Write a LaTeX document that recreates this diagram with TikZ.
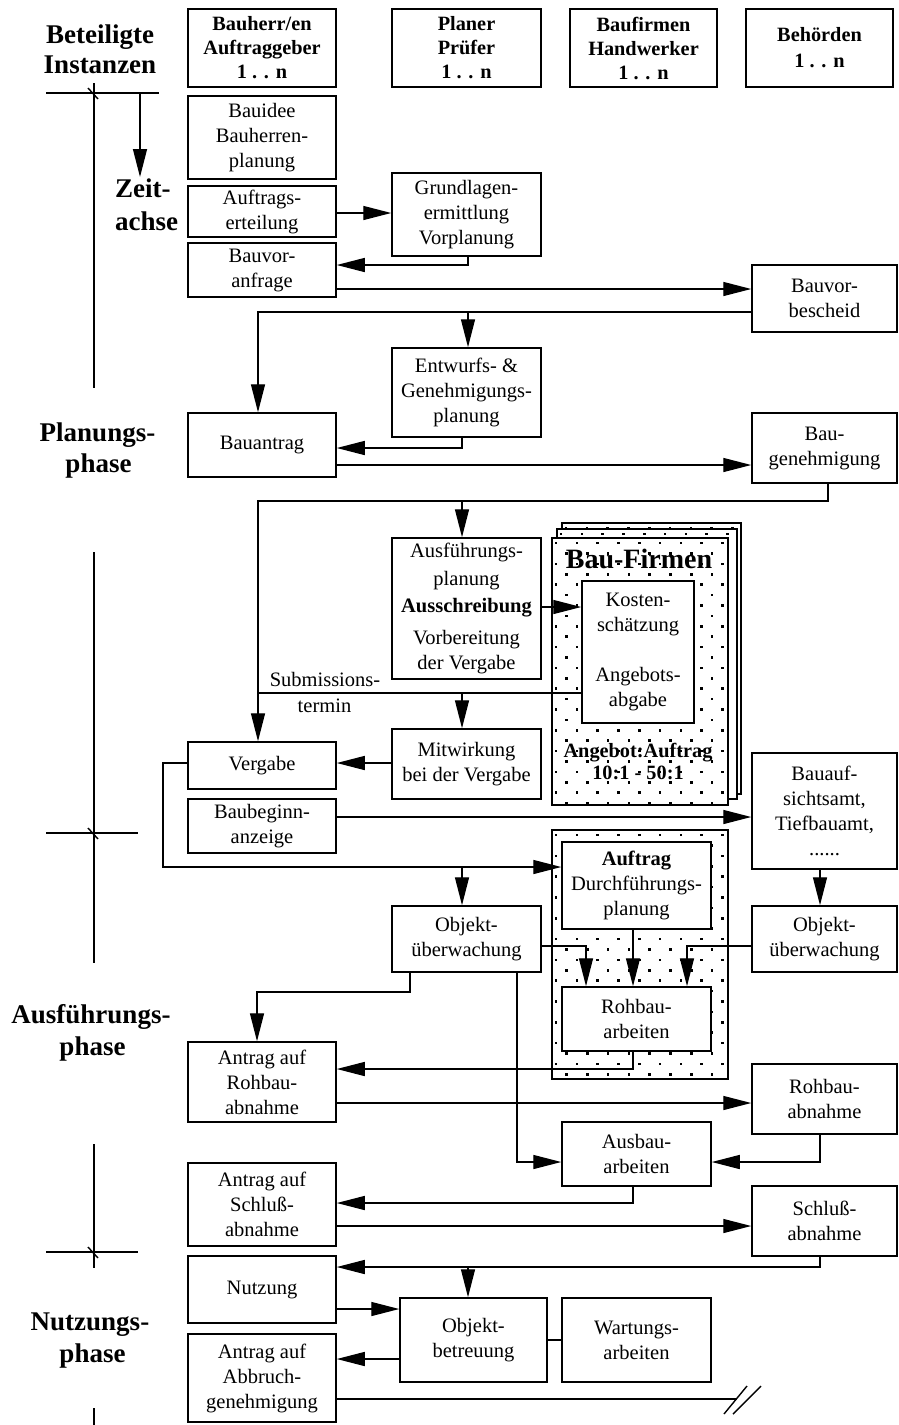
\documentclass[tikz,border=0pt]{standalone}
\usepackage{fontspec}
\setmainfont{Liberation Serif}
\usetikzlibrary{arrows.meta,calc}
\tikzset{
  box/.style={draw, line width=1.5pt, fill=white, inner sep=0pt, align=center,
              font=\fontsize{20.5}{25}\selectfont},
  hbox/.style={box, font=\fontsize{20.3}{24}\selectfont\bfseries},
  conn/.style={line width=1.4pt},
  arr/.style={conn, -{Triangle[length=28pt,width=14pt]}},
  big/.style={font=\fontsize{27}{30}\selectfont\bfseries, inner sep=0pt, anchor=base},
  lbl/.style={font=\fontsize{20.5}{25}\selectfont, inner sep=0pt, anchor=base},
  blbl/.style={font=\fontsize{20.3}{24}\selectfont\bfseries, inner sep=0pt, anchor=base},
  pagebox/.style={draw, line width=1.5pt, inner sep=0pt},
}
% box: name, x1, y1, x2, y2, text
\newcommand\bx[7][box]{\node[#1, minimum width={(#5)-(#3)}, minimum height={(#6)-(#4)}] (#2) at ({((#3)+(#5))/2},{((#4)+(#6))/2}) {#7};}
% dotted area
\newcommand\dotarea[4]{%
  \begin{scope}
    \clip ({#1+1},{#2+1}) rectangle ({#3-1},{#4-1});
    \pgfmathtruncatemacro\dnr{((#4)-(#2))/10.4+1}
    \pgfmathtruncatemacro\dnc{((#3)-(#1))/20.8+1}
    \foreach \ii in {0,...,\dnr}{
      \foreach \jj in {0,...,\dnc}{
        \pgfmathsetmacro\dotx{(#1)+4+\jj*20.8+mod(\ii,2)*10.4}
        \pgfmathsetmacro\doty{(#2)+5+\ii*10.4}
        \fill (\dotx-1.3,\doty-1.3) rectangle (\dotx+1.3,\doty+1.3);
      }}
  \end{scope}}
% dotted page: name, x1, y1, x2, y2
\newcommand\dpage[5]{%
  \fill[white] (#2,#3) rectangle (#4,#5);
  \dotarea{#2}{#3}{#4}{#5}
  \node[pagebox, minimum width={(#4)-(#2)}, minimum height={(#5)-(#3)}] (#1) at ({((#2)+(#4))/2},{((#3)+(#5))/2}) {};}

\begin{document}
\begin{tikzpicture}[x=1pt,y=-1pt]
\useasboundingbox (0,0) rectangle (899,1425);

% ---------- left labels and time axis ----------
\node[big] (lBet) at (100,43) {Beteiligte};
\node[big] (lIns) at (100,73) {Instanzen};
\node[big, anchor=base west] (lZeit) at (115,197) {Zeit-};
\node[big, anchor=base west] (lAchse) at (115,230) {achse};
\node[big] (lPlan) at (97.5,441) {Planungs-};
\node[big] (lPlanB) at (98.5,472) {phase};
\node[big] (lAusf) at (91,1023) {Ausführungs-};
\node[big] (lAusfB) at (92.5,1055) {phase};
\node[big] (lNutz) at (90,1330) {Nutzungs-};
\node[big] (lNutzB) at (92.5,1362) {phase};

\draw[conn] (46,93) -- (159,93);
\draw[conn] (94,83) -- (94,388);
\draw[conn] (88,88) -- (98,99);
\draw[conn] (94,552) -- (94,963);
\draw[conn] (46,833) -- (138,833);
\draw[conn] (88,828) -- (98,839);
\draw[conn] (94,1144) -- (94,1268);
\draw[conn] (46,1252) -- (138,1252);
\draw[conn] (88,1247) -- (98,1258);
\draw[conn] (94,1408) -- (94,1425);
\coordinate (zTop) at (140,93);
\coordinate (zBot) at (140,177);
\draw[arr] (zTop) -- (zBot);

% ---------- dotted firm pages ----------
\dpage{firm3}{562}{523}{741}{794}
\dpage{firm2}{557}{529}{737}{799}
\dpage{firm1}{552}{538}{728}{805}
\dpage{auftrCont}{552}{830}{728}{1079}

\node[font=\fontsize{28}{30}\selectfont\bfseries, inner sep=0pt, anchor=base] (tFirm) at (639,568) {Bau-Firmen};
\node[blbl] (tAng) at (638,757) {Angebot:Auftrag};
\node[blbl] (tRat) at (638,779) {10:1 - 50:1};

% ---------- header row ----------
\bx[hbox]{hA}{188}{9}{336}{87}{Bauherr/en\\Auftraggeber\\1 . . n}
\bx[hbox]{hB}{392}{9}{541}{87}{Planer\\Prüfer\\1 . . n}
\bx[hbox]{hC}{570}{9}{717}{87}{Baufirmen\\Handwerker\\1 . . n}
\bx[hbox]{hD}{746}{9}{893}{87}{Behörden\\[2pt]1 . . n}

% ---------- left column ----------
\bx{bauidee}{188}{96}{336}{179}{Bauidee\\Bauherren-\\planung}
\bx{auftr}{188}{186}{336}{237}{Auftrags-\\erteilung}
\bx{bvanf}{188}{243}{336}{297}{Bauvor-\\anfrage}
\bx{bauantrag}{188}{413}{336}{477}{Bauantrag}
\bx{vergabe}{188}{742}{336}{789}{Vergabe}
\bx{baubeginn}{188}{799}{336}{853}{Baubeginn-\\anzeige}
\bx{antrRoh}{188}{1042}{336}{1122}{Antrag auf\\Rohbau-\\abnahme}
\bx{antrSchl}{188}{1163}{336}{1246}{Antrag auf\\Schluß-\\abnahme}
\bx{nutzung}{188}{1256}{336}{1323}{Nutzung}
\bx{antrAbb}{188}{1334}{336}{1422}{Antrag auf\\Abbruch-\\genehmigung}

% ---------- middle column ----------
\bx{grund}{392}{173}{541}{256}{Grundlagen-\\ermittlung\\Vorplanung}
\bx{entw}{392}{348}{541}{437}{Entwurfs- \&\\Genehmigungs-\\planung}
\bx{ausf}{392}{538}{541}{679}{Ausführungs-\\[3pt]planung\\[2pt]\textbf{Ausschreibung}\\[7pt]Vorbereitung\\der Vergabe}
\bx{mitw}{392}{729}{541}{799}{Mitwirkung\\bei der Vergabe}
\bx{objUe}{392}{906}{541}{972}{Objekt-\\überwachung}
\bx{objBe}{400}{1298}{547}{1382}{Objekt-\\betreuung}

% ---------- firm column ----------
\bx{kosten}{582}{581}{694}{723}{Kosten-\\schätzung\\[25pt]Angebots-\\abgabe}
\bx{auftrag}{562}{842}{711}{929}{\textbf{Auftrag}\\Durchführungs-\\planung}
\bx{rohArb}{562}{987}{711}{1051}{Rohbau-\\arbeiten}
\bx{ausbau}{562}{1122}{711}{1186}{Ausbau-\\arbeiten}
\bx{wartung}{562}{1298}{711}{1382}{Wartungs-\\arbeiten}

% ---------- right column ----------
\bx{bvbes}{752}{265}{897}{332}{Bauvor-\\bescheid}
\bx{baugen}{752}{413}{897}{483}{Bau-\\genehmigung}
\bx{bauaufs}{752}{753}{897}{869}{Bauauf-\\sichtsamt,\\Tiefbauamt,\\......}
\bx{objUeR}{752}{906}{897}{972}{Objekt-\\überwachung}
\bx{rohAbn}{752}{1064}{897}{1134}{Rohbau-\\abnahme}
\bx{schlAbn}{752}{1186}{897}{1256}{Schluß-\\abnahme}

% ---------- connectors ----------
\draw[arr] (auftr.east |- 0,213) -- (grund.west |- 0,213);
\draw[arr] (grund.south -| 468,0) |- (bvanf.east |- 0,265);
\draw[arr] (bvanf.east |- 0,289) -- (bvbes.west |- 0,289);
\draw[arr] (bvbes.west |- 0,312) -| (bauantrag.north -| 258,0);
\coordinate (j1) at (468,312);
\draw[arr] (j1) -- (entw.north -| j1);
\draw[arr] (entw.south -| 462,0) |- (bauantrag.east |- 0,448);
\draw[arr] (bauantrag.east |- 0,465) -- (baugen.west |- 0,465);
\coordinate (j2) at (258,501);
\draw[arr] (baugen.south -| 828,0) |- (j2) -- (vergabe.north -| j2);
\coordinate (j3) at (462,501);
\draw[arr] (j3) -- (ausf.north -| j3);
\draw[arr] (ausf.east |- 0,607) -- (kosten.west |- 0,607);
\coordinate (j4) at (258,693);
\draw[conn] (kosten.west |- j4) -- (j4);
\coordinate (j5) at (462,693);
\draw[arr] (j5) -- (mitw.north -| j5);
\node[lbl] (tSub) at (325,686) {Submissions-};
\node[lbl] (tTer) at (324.5,712) {termin};
\draw[arr] (mitw.west |- 0,763) -- (vergabe.east |- 0,763);
\coordinate (j6) at (163,867);
\draw[arr] (vergabe.west |- 0,763) -| (j6) -- (auftrag.west |- j6);
\coordinate (j7) at (462,867);
\draw[arr] (j7) -- (objUe.north -| j7);
\draw[arr] (baubeginn.east |- 0,817) -- (bauaufs.west |- 0,817);
\draw[arr] (bauaufs.south -| 820,0) -- (objUeR.north -| 820,0);
\draw[arr] (auftrag.south -| 633,0) -- (rohArb.north -| 633,0);
\draw[arr] (objUe.east |- 0,946) -| (rohArb.north -| 586,0);
\draw[arr] (objUeR.west |- 0,946) -| (rohArb.north -| 687,0);
\coordinate (j8) at (257,992);
\draw[arr] (objUe.south -| 410,0) |- (j8) -- (antrRoh.north -| j8);
\draw[arr] (rohArb.south -| 633,0) |- (antrRoh.east |- 0,1069);
\draw[arr] (antrRoh.east |- 0,1103) -- (rohAbn.west |- 0,1103);
\draw[arr] (objUe.south -| 517,0) |- (ausbau.west |- 0,1162);
\draw[arr] (rohAbn.south -| 820,0) |- (ausbau.east |- 0,1162);
\draw[arr] (ausbau.south -| 633,0) |- (antrSchl.east |- 0,1203);
\draw[arr] (antrSchl.east |- 0,1226) -- (schlAbn.west |- 0,1226);
\draw[arr] (schlAbn.south -| 820,0) |- (nutzung.east |- 0,1267);
\coordinate (j9) at (468,1267);
\draw[arr] (j9) -- (objBe.north -| j9);
\draw[arr] (nutzung.east |- 0,1309) -- (objBe.west |- 0,1309);
\draw[arr] (objBe.west |- 0,1359) -- (antrAbb.east |- 0,1359);
\draw[conn] (objBe.east |- 0,1340) -- (wartung.west |- 0,1340);
\coordinate (endL) at (737,1399);
\draw[conn] (antrAbb.east |- endL) -- (endL);
\draw[conn] (724,1414) -- (747,1386);
\draw[conn] (733,1414) -- (761,1386);
\end{tikzpicture}
\end{document}
